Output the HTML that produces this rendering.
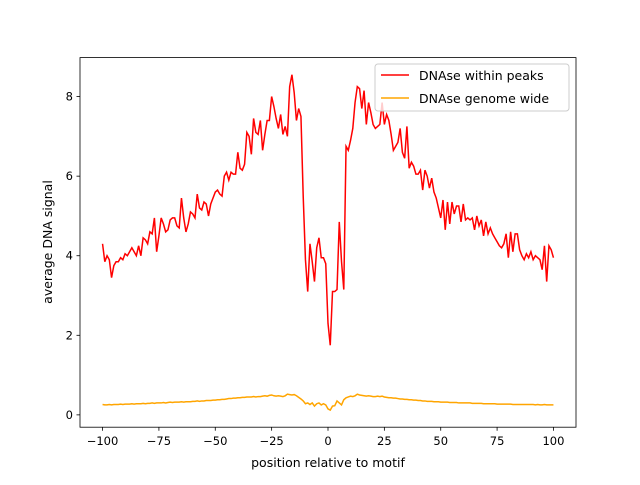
<!DOCTYPE html>
<html><head><meta charset="utf-8"><style>
body{margin:0;background:#fff;}
svg text{font-family:"DejaVu Sans","Liberation Sans",sans-serif;fill:#000;}
</style></head><body>
<svg id="chart" width="640" height="480" xmlns="http://www.w3.org/2000/svg">
<rect width="640" height="480" fill="#fff"/>
<g id="plot"></g>
<rect x="80" y="57.6" width="496" height="369.6" fill="none" stroke="#000" stroke-width="0.8"/>
<g id="ticks"></g>
<text x="328" y="467" font-size="12.5" text-anchor="middle">position relative to motif</text>
<text transform="translate(52,242) rotate(-90)" font-size="12.5" text-anchor="middle">average DNA signal</text>
<g>
<rect x="375" y="64" width="194" height="47" rx="3" fill="#fff" fill-opacity="0.8" stroke="#ccc" stroke-width="1"/>
<line x1="381" y1="75" x2="409" y2="75" stroke="red" stroke-width="1.5"/>
<text x="419" y="80" font-size="12.5">DNAse within peaks</text>
<line x1="381" y1="98" x2="409" y2="98" stroke="orange" stroke-width="1.5"/>
<text x="419" y="103" font-size="12.5">DNAse genome wide</text>
</g>
</svg>
<script>
const positions=[];for(let i=-100;i<=100;i++)positions.push(i);
const peaksSignal=[4.3,3.85,4.0,3.9,3.45,3.75,3.85,3.85,3.95,3.9,
4.05,4.0,4.1,4.2,4.1,4.0,4.25,4.0,4.45,4.4,
4.3,4.6,4.55,4.95,4.1,4.5,4.95,4.8,4.6,4.65,
4.9,4.95,4.95,4.75,4.7,5.45,4.95,4.6,4.8,5.1,
5.05,4.95,5.55,5.2,5.15,5.35,5.3,5.0,5.3,5.45,
5.6,5.65,5.55,5.5,6.0,6.1,5.9,6.1,6.05,6.05,
6.6,6.2,6.15,6.3,7.1,7.0,6.55,7.45,7.1,7.05,
7.4,6.65,7.05,7.4,7.4,8.0,7.75,7.45,7.2,7.55,
7.05,7.25,7.0,8.25,8.55,8.1,7.4,7.7,7.5,5.5,
3.9,3.1,4.3,3.85,3.35,4.2,4.45,3.95,3.95,3.8,
2.3,1.75,3.1,3.1,3.15,4.85,3.85,3.15,6.75,6.65,
6.9,7.2,7.85,8.25,8.2,7.7,8.15,7.3,7.85,7.6,
7.3,7.2,7.25,7.3,7.85,7.3,7.55,7.4,7.05,6.65,
6.75,6.85,7.2,6.6,6.45,7.25,6.2,6.35,6.25,6.05,
6.05,6.15,5.65,6.15,6.0,5.7,5.95,5.6,5.45,5.2,
4.95,5.4,4.65,5.35,4.8,5.35,5.05,5.25,5.25,4.85,
5.3,4.9,4.95,4.9,4.95,4.65,5.0,4.75,4.9,4.5,
4.85,4.55,4.7,4.55,4.45,4.35,4.25,4.2,4.3,4.55,
3.95,4.6,4.1,4.55,4.55,4.15,4.0,3.9,4.05,3.95,
4.1,3.9,4.0,3.95,3.9,3.65,4.25,3.35,4.25,4.15,3.95];
const genomeSignal=[0.26,0.25,0.25,0.26,0.25,0.26,0.26,0.26,0.27,0.26,
0.27,0.27,0.27,0.28,0.27,0.28,0.28,0.28,0.29,0.28,
0.29,0.29,0.30,0.29,0.30,0.30,0.30,0.31,0.30,0.31,
0.32,0.31,0.32,0.32,0.32,0.33,0.32,0.33,0.33,0.33,
0.34,0.34,0.35,0.34,0.35,0.35,0.36,0.36,0.36,0.37,
0.37,0.38,0.38,0.39,0.39,0.40,0.41,0.41,0.42,0.42,
0.43,0.43,0.44,0.44,0.45,0.45,0.45,0.46,0.45,0.46,
0.46,0.47,0.48,0.47,0.49,0.50,0.48,0.47,0.48,0.47,
0.46,0.48,0.52,0.51,0.50,0.51,0.48,0.44,0.40,0.35,
0.28,0.30,0.26,0.30,0.22,0.28,0.30,0.25,0.28,0.25,
0.15,0.12,0.22,0.23,0.35,0.30,0.25,0.38,0.43,0.45,
0.47,0.46,0.48,0.52,0.50,0.49,0.48,0.47,0.48,0.47,
0.46,0.46,0.47,0.46,0.47,0.45,0.44,0.43,0.43,0.42,
0.42,0.41,0.40,0.40,0.39,0.39,0.38,0.38,0.37,0.37,
0.36,0.36,0.35,0.35,0.34,0.34,0.34,0.33,0.33,0.33,
0.32,0.32,0.32,0.32,0.31,0.31,0.31,0.31,0.30,0.30,
0.30,0.30,0.30,0.30,0.29,0.29,0.29,0.29,0.29,0.28,
0.28,0.28,0.28,0.28,0.28,0.27,0.27,0.27,0.27,0.27,
0.27,0.27,0.26,0.26,0.26,0.26,0.26,0.26,0.26,0.26,
0.26,0.26,0.25,0.26,0.25,0.25,0.26,0.25,0.25,0.25,0.25];
const xTicks=[-100,-75,-50,-25,0,25,50,75,100];
const yTicks=[0,2,4,6,8];
const X0=80,X1=576,Y0=57.6,Y1=427.2,xmin=-110,xmax=110,ymin=-0.31,ymax=8.98;
const sx=v=>X0+(v-xmin)/(xmax-xmin)*(X1-X0);
const sy=v=>Y1-(v-ymin)/(ymax-ymin)*(Y1-Y0);
const NS='http://www.w3.org/2000/svg';
const plot=document.getElementById('plot'),ticks=document.getElementById('ticks');
function line(vals,color,name){
  const p=document.createElementNS(NS,'polyline');
  p.setAttribute('points',vals.map((v,i)=>sx(positions[i]).toFixed(2)+','+sy(v).toFixed(2)).join(' '));
  p.setAttribute('fill','none');p.setAttribute('stroke',color);p.setAttribute('stroke-width','1.5');
  
  
  plot.appendChild(p);
}
line(genomeSignal,'orange','genome-wide-line');
line(peaksSignal,'red','within-peaks-line');
xTicks.forEach(t=>{
  const x=sx(t);
  const l=document.createElementNS(NS,'line');
  l.setAttribute('x1',x);l.setAttribute('x2',x);l.setAttribute('y1',Y1);l.setAttribute('y2',Y1+3.5);l.setAttribute('stroke','#000');l.setAttribute('stroke-width','0.8');
  
  
  ticks.appendChild(l);
  const tx=document.createElementNS(NS,'text');
  tx.setAttribute('x',x);tx.setAttribute('y',Y1+18);tx.setAttribute('font-size','11.5');tx.setAttribute('text-anchor','middle');
  tx.textContent=t<0?'\u2212'+(-t):t;
  
  
  ticks.appendChild(tx);
});
yTicks.forEach(t=>{
  const y=sy(t);
  const l=document.createElementNS(NS,'line');
  l.setAttribute('x1',X0-3.5);l.setAttribute('x2',X0);l.setAttribute('y1',y);l.setAttribute('y2',y);l.setAttribute('stroke','#000');l.setAttribute('stroke-width','0.8');
  
  
  ticks.appendChild(l);
  const tx=document.createElementNS(NS,'text');
  tx.setAttribute('x',X0-7);tx.setAttribute('y',y+4);tx.setAttribute('font-size','11.5');tx.setAttribute('text-anchor','end');
  tx.textContent=t;
  
  
  ticks.appendChild(tx);
});
</script>
</body></html>
